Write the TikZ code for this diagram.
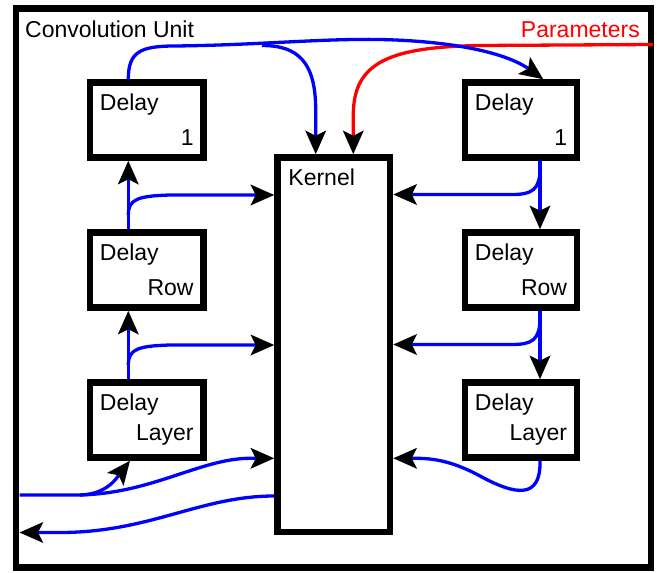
\documentclass[tikz,border=0pt]{standalone}
\usepackage{fontspec}
\setmainfont{Liberation Sans}
\usetikzlibrary{arrows.meta}
\begin{document}
\begin{tikzpicture}[x=1pt,y=-1pt,
  box/.style={draw, line width=6.5pt, inner sep=0pt, minimum width=113.5pt, minimum height=75pt},
  lbl/.style={inner sep=0pt, font=\fontsize{23}{27}\selectfont},
  tipblack/.tip={Stealth[length=23.5pt,width=20.5pt,inset=5pt,color=black]},
  wire/.style={draw=blue, line width=3.3pt, -tipblack},
  link/.style={draw=blue, line width=3.3pt},
  param/.style={draw=red, line width=3.3pt, -tipblack}]
\useasboundingbox (0,0) rectangle (657,573);

% enclosing unit
\node[draw, line width=6.5pt, inner sep=0pt, minimum width=635pt, minimum height=559pt] (unit) at (333.5,288) {};
\node[lbl, anchor=base west] (title) at (25,37) {Convolution Unit};
\node[lbl, anchor=base east, text=red] (plbl) at (640,37.5) {Parameters};

% delay stages and kernel
\node[box] (LD1) at (146.75,120) {};
\node[box] (LDR) at (146.75,270) {};
\node[box] (LDL) at (146.75,420) {};
\node[box, minimum width=112pt] (RD1) at (521,120) {};
\node[box, minimum width=112pt] (RDR) at (521,270) {};
\node[box, minimum width=112pt] (RDL) at (521,420) {};
\node[box, minimum width=112.5pt, minimum height=374.5pt] (kernel) at (333.75,344.75) {};

\foreach \b/\t in {LD1/1, LDR/Row, LDL/Layer, RD1/1, RDR/Row, RDL/Layer}{
  \node[lbl, anchor=base west] (\b-top) at ([shift={(13,31)}]\b.north west) {Delay};
  \node[lbl, anchor=south east] (\b-bot) at ([shift={(-13,66.5)}]\b.north east) {\t};
}
\node[lbl, anchor=base west] (klbl) at ([shift={(14,31)}]kernel.north west) {Kernel};

% free ends on the unit border
\coordinate (in)  at (19.5,495);
\coordinate (out) at (19.5,532.5);
\coordinate (par) at (653,44.5);

% parameters into the kernel
\draw[param] (par) -- (480,45.5) .. controls (390,47) and (353.3,62) .. (353.3,115) -- (353.3,0 |- kernel.north);

% left chain
\draw[wire] (in) -- (75,495) .. controls (150,495) and (200,458.3) .. (250,458.3) -- (kernel.west |- 0,458.3);
\draw[wire] (80,495) .. controls (108,494.5) and (118,476) .. (130,0 |- LDL.south);
\draw[wire] (128.3,0 |- LDL.north) -- (128.3,0 |- LDR.south);
\draw[wire] (128.3,365) .. controls (128.3,349) and (138,346) .. (170,345) -- (kernel.west |- 0,345);
\draw[wire] (128.3,0 |- LDR.north) -- (128.3,0 |- LD1.south);
\draw[wire] (128.3,215) .. controls (128.3,199) and (138,196) .. (170,195) -- (kernel.west |- 0,195);

% top bus from the first delay
\draw[wire] (128.3,0 |- LD1.north) .. controls (128.3,52) and (140,46) .. (175,46)
  .. controls (260,45) and (320,38.5) .. (380,39.5)
  .. controls (450,41) and (505,52) .. (543.3,0 |- RD1.north);
\draw[wire] (262,45.5) .. controls (298,45.5) and (315.7,62) .. (315.7,110) -- (315.7,0 |- kernel.north);

% right chain
\draw[wire] (540,0 |- RD1.south) -- (540,0 |- RDR.north);
\draw[wire] (540,168) .. controls (540,190) and (532,194.5) .. (512,194.5) -- (kernel.east |- 0,194.5);
\draw[wire] (540,0 |- RDR.south) -- (540,0 |- RDL.north);
\draw[wire] (540,318) .. controls (540,340) and (532,344.5) .. (512,344.5) -- (kernel.east |- 0,344.5);
\draw[wire] (540,0 |- RDL.south) .. controls (541,500) and (515,495) .. (480,476)
  .. controls (450,459.7) and (430,458.3) .. (415,458.3) -- (kernel.east |- 0,458.3);

% kernel output
\draw[wire] (kernel.west |- 0,496) .. controls (200,496) and (150,532.5) .. (60,532.5) -- (out);
\end{tikzpicture}
\end{document}
